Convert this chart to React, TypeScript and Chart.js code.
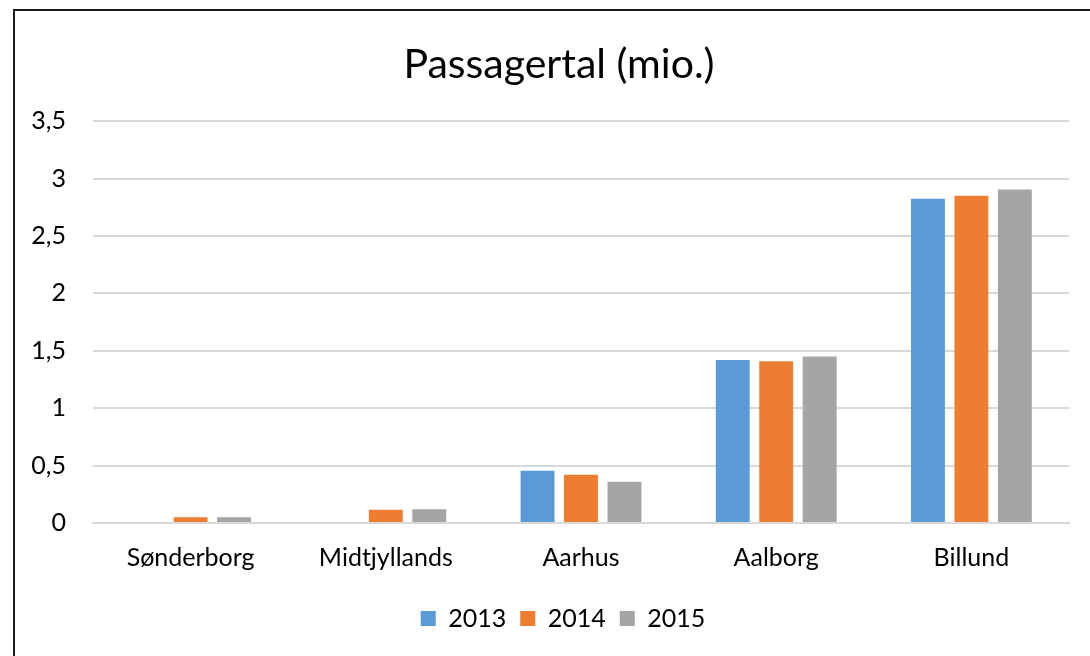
import React, { useEffect, useRef } from "react";
import { Chart, registerables } from "chart.js";

Chart.register(...registerables);

const categories = ["Sønderborg", "Midtjyllands", "Aarhus", "Aalborg", "Billund"];
const values2013 = [null, null, 0.455, 1.42, 2.825];
const values2014 = [0.05, 0.115, 0.42, 1.41, 2.85];
const values2015 = [0.05, 0.12, 0.36, 1.45, 2.905];
const seriesLabels = ["2013", "2014", "2015"];
const yTicks = [0, 0.5, 1, 1.5, 2, 2.5, 3, 3.5];

const FONT = "Lato, 'Open Sans', sans-serif";

const shiftPlugin = {
  id: "shiftBlocks",
  afterLayout(chart: any) {
    const t = chart.titleBlock;
    if (t) { t.left += 17; t.right += 17; }
    const l = chart.legend;
    if (l) { l.left += 21; l.right += 21; }
  },
};

export default function App() {
  const ref = useRef<HTMLCanvasElement | null>(null);
  useEffect(() => {
    if (!ref.current) return;
    const chart = new Chart(ref.current, {
      type: "bar",
      data: {
        labels: categories,
        datasets: [
          { label: seriesLabels[0], data: values2013, backgroundColor: "#5B9BD5" },
          { label: seriesLabels[1], data: values2014, backgroundColor: "#ED7D31" },
          { label: seriesLabels[2], data: values2015, backgroundColor: "#A5A5A5" },
        ],
      },
      plugins: [shiftPlugin],
      options: {
        responsive: false,
        animation: false,
        datasets: { bar: { categoryPercentage: 0.668, barPercentage: 0.78 } },
        layout: { padding: { left: 15, right: 21, top: 0, bottom: 15 } },
        plugins: {
          title: {
            display: true,
            text: "Passagertal (mio.)",
            color: "#000",
            font: { family: FONT, size: 41, weight: "normal" },
            padding: { top: 40, bottom: 32 },
          },
          legend: {
            position: "bottom",
            labels: {
              color: "#000",
              font: { family: FONT, size: 25 },
              boxWidth: 15,
              boxHeight: 15,
              padding: 14,
            },
          },
          tooltip: { enabled: false },
        },
        scales: {
          x: {
            grid: { display: false, drawTicks: false },
            border: { display: true, color: "#D9D9D9", width: 2 },
            ticks: { color: "#000", font: { family: FONT, size: 25 }, padding: 20 },
            afterFit: (s: any) => { s.height = 69; },
          },
          y: {
            min: 0,
            max: 3.5,
            afterBuildTicks: (s: any) => { s.ticks = yTicks.map((v) => ({ value: v })); },
            grid: { color: "#D9D9D9", lineWidth: 2, drawTicks: false },
            border: { display: false },
            ticks: {
              color: "#000",
              font: { family: FONT, size: 25 },
              padding: 27,
              callback: (v: any) => String(v).replace(".", ","),
            },
            afterFit: (s: any) => { s.width = 78; },
          },
        },
      },
    });
    return () => chart.destroy();
  }, []);
  return (
    <div style={{ position: "fixed", left: 0, top: 0, width: 1090, height: 656, overflow: "hidden", background: "#fff" }}>
      <div style={{ position: "absolute", left: 13, top: 9, width: 1100, height: 700, border: "2px solid #1a1a1a", boxSizing: "border-box" }} />
      <canvas ref={ref} width={1090} height={656} style={{ position: "absolute", left: 0, top: 0 }} />
    </div>
  );
}
